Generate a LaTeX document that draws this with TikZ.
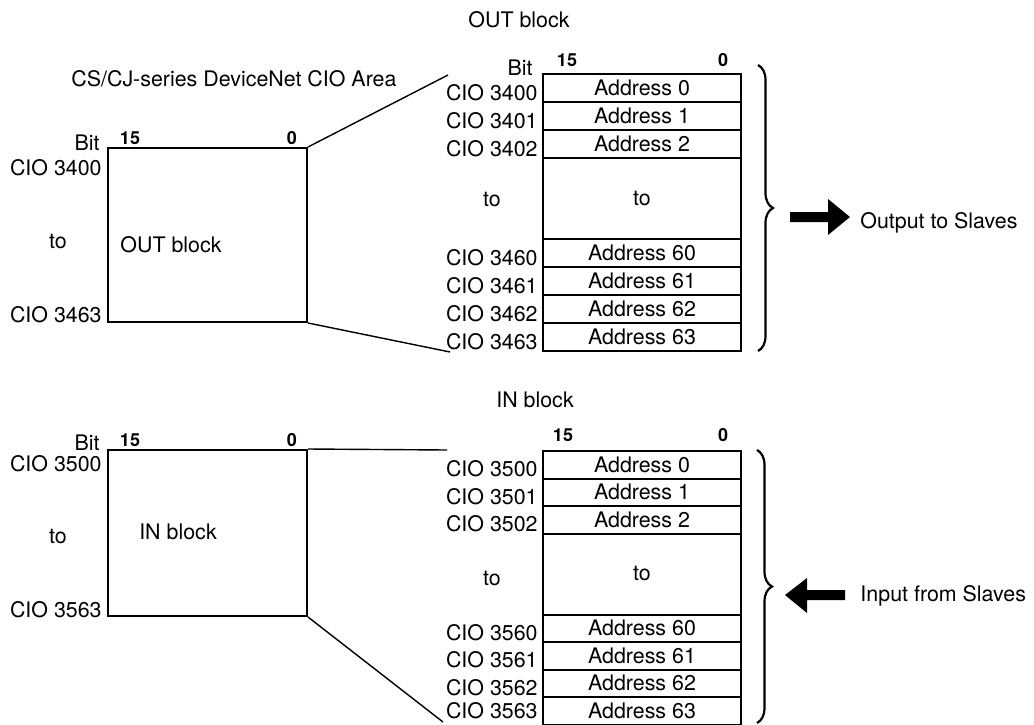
\documentclass[tikz,border=0pt]{standalone}
\usepackage{fontspec}
\setmainfont{TeX Gyre Heros}
\usetikzlibrary{decorations.pathreplacing}

\tikzset{
  lbl/.style={font=\fontsize{10.7}{12}\selectfont, inner sep=0pt},
  bitno/.style={font=\fontsize{9}{10}\selectfont\bfseries, inner sep=0pt},
  area/.style={draw, line width=1pt, minimum width=99.5pt, inner sep=0pt},
  cell/.style={draw, line width=1pt, minimum width=99pt, inner sep=0pt, font=\fontsize{10.7}{12}\selectfont},
  bracket/.style={decorate, decoration={brace, amplitude=7.5pt}, line width=1.1pt}
}

\begin{document}
\begin{tikzpicture}[x=0.5pt,y=-0.5pt]
\useasboundingbox (0,0) rectangle (1034,724);

\node[lbl, anchor=west] (title) at (71,79) {CS/CJ-series DeviceNet CIO Area};

% OUT area
\node[area, minimum height=87pt] (outarea) at (207.5,235) {};
\node[lbl, anchor=east] (outbit) at (100,143) {Bit};
\node[bitno] (outmsb) at (130,138) {15};
\node[bitno] (outlsb) at (292,138) {0};
\node[lbl, anchor=east] (outfirst) at (102,168) {CIO 3400};
\node[lbl] (outdots) at (58,242) {to};
\node[lbl, anchor=west] (outname) at (120,245) {OUT block};
\node[lbl, anchor=east] (outlast) at (102,315) {CIO 3463};

\node[lbl] (outhead) at (519,20) {OUT block};
\node[lbl, anchor=east] (outbit2) at (533,68) {Bit};
\node[bitno] (outmsb2) at (567,60) {15};
\node[bitno] (outlsb2) at (723,60) {0};
\foreach \n/\top in {0/74, 1/102, 2/130, 60/239, 61/267, 62/295, 63/323} {
  \node[cell, minimum height=14pt] (out\n) at (642,\top+14) {Address \n};
  \pgfmathtruncatemacro{\cio}{3400+\n}
  \node[lbl, anchor=east] (outcio\n) at (538,\top+19) {CIO \cio};
}
\node[cell, minimum height=40.5pt] (outto) at (642,198.5) {to};
\node[lbl] (outtolbl) at (492,200) {to};

\coordinate (outtopend) at (448,75);
\coordinate (outbotend) at (450,352);
\draw[line width=0.7pt] (outarea.north east) -- (outtopend);
\draw[line width=0.7pt] (outarea.south east) -- (outbotend);

\draw[bracket] (758,65) -- (758,351);
\fill (790,212) -- (828,212) -- (828,199) -- (850,217) -- (828,235) -- (828,222) -- (790,222) -- cycle;
\node[lbl, anchor=west] (outslaves) at (860,223) {Output to Slaves};

% IN area
\node[area, minimum height=83pt] (inarea) at (207.5,533) {};
\node[lbl, anchor=east] (inbit) at (100,443) {Bit};
\node[bitno] (inmsb) at (130,440) {15};
\node[bitno] (inlsb) at (292,440) {0};
\node[lbl, anchor=east] (infirst) at (102,464) {CIO 3500};
\node[lbl] (indots) at (58,537) {to};
\node[lbl] (inname) at (178,532) {IN block};
\node[lbl, anchor=east] (inlast) at (102,610) {CIO 3563};

\node[lbl] (inhead) at (535,400) {IN block};
\node[bitno] (inmsb2) at (563,435) {15};
\node[bitno] (inlsb2) at (723,435) {0};
\foreach \n/\top/\dy in {0/451/18, 1/478.5/18, 2/506/18, 60/614.5/18, 61/642/18, 62/669.5/18, 63/697/14} {
  \node[cell, minimum height=13.75pt] (in\n) at (642,\top+13.75) {Address \n};
  \pgfmathtruncatemacro{\cio}{3500+\n}
  \node[lbl, anchor=east] (incio\n) at (538,\top+\dy) {CIO \cio};
}
\node[cell, minimum height=40.5pt] (into) at (642,574) {to};
\node[lbl] (intolbl) at (492,579) {to};

\coordinate (intopend) at (447,450);
\coordinate (inbotend) at (443,722);
\draw[line width=0.7pt] (inarea.north east) -- (intopend);
\draw[line width=0.7pt] (inarea.south east) -- (inbotend);

\draw[bracket] (757,450) -- (757,723);
\fill (845,590) -- (807,590) -- (807,578) -- (785,595) -- (807,613) -- (807,600) -- (845,600) -- cycle;
\node[lbl, anchor=west] (inslaves) at (860,596) {Input from Slaves};
\end{tikzpicture}
\end{document}
